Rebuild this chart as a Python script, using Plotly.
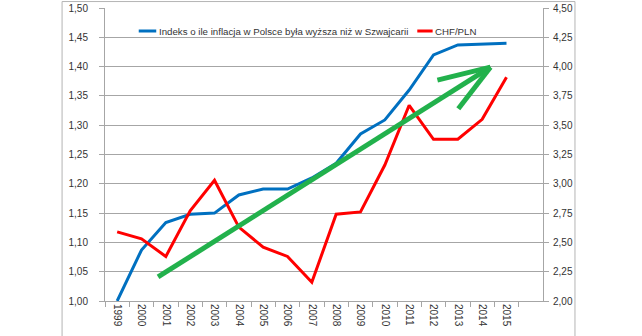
import plotly.graph_objects as go

# Years on the category axis
years = [str(y) for y in range(1999, 2016)]

# Index: how much higher cumulative inflation in Poland was than in Switzerland (left axis)
inflation_index = [1.000, 1.087, 1.134, 1.148, 1.150, 1.181, 1.191, 1.191, 1.210,
                   1.235, 1.285, 1.309, 1.360, 1.420, 1.437, 1.438, 1.440]

# CHF/PLN exchange rate (right axis)
chf_pln = [2.59, 2.53, 2.38, 2.77, 3.03, 2.63, 2.46, 2.38, 2.16,
           2.74, 2.76, 3.16, 3.67, 3.38, 3.38, 3.55, 3.91]

legend_labels = ["Indeks o ile inflacja w Polsce była wyższa niż w Szwajcarii", "CHF/PLN"]

BLUE = "#0070C0"
RED = "#FF0000"
GREEN = "#22B14C"
GRID = "#A6A6A6"
TEXT = "#333333"
FONT = "Liberation Sans, Arial, sans-serif"

fig = go.Figure()
fig.add_trace(go.Scatter(x=years, y=inflation_index, mode="lines", name=legend_labels[0],
                         line=dict(color=BLUE, width=3), yaxis="y"))
fig.add_trace(go.Scatter(x=years, y=chf_pln, mode="lines", name=legend_labels[1],
                         line=dict(color=RED, width=3), yaxis="y2"))

# Hand-drawn trend arrow, positions given as (category index, left-axis value)
arrow_start = (1.68, 1.041)
arrow_tip = (15.34, 1.399)
arrow_arms = [(13.16, 1.377), (14.02, 1.328)]

shapes = []
for (x0, y0) in [arrow_start] + arrow_arms:
    shapes.append(dict(type="line", xref="x", yref="y", x0=x0, y0=y0,
                       x1=arrow_tip[0], y1=arrow_tip[1],
                       line=dict(color=GREEN, width=5)))

# Outer chart frame
shapes.append(dict(type="rect", xref="paper", yref="paper", x0=-0.098, x1=1.073,
                   y0=-0.3, y1=1.022, line=dict(color="#B4B4B4", width=1), layer="below"))

# Legend drawn at the top of the plot area
legend_y = 0.9215
shapes.append(dict(type="line", xref="paper", yref="paper", x0=0.077, x1=0.117,
                   y0=legend_y, y1=legend_y, line=dict(color=BLUE, width=3)))
shapes.append(dict(type="line", xref="paper", yref="paper", x0=0.713, x1=0.748,
                   y0=legend_y, y1=legend_y, line=dict(color=RED, width=3)))
annotations = [
    dict(xref="paper", yref="paper", x=0.118, y=legend_y, text=legend_labels[0],
         showarrow=False, xanchor="left", yanchor="middle",
         font=dict(family=FONT, size=9.7, color=TEXT)),
    dict(xref="paper", yref="paper", x=0.749, y=legend_y, text=legend_labels[1],
         showarrow=False, xanchor="left", yanchor="middle",
         font=dict(family=FONT, size=9.7, color=TEXT)),
]

fig.update_layout(
    width=642, height=336,
    margin=dict(l=105, r=99, t=8, b=35, autoexpand=False),
    paper_bgcolor="white", plot_bgcolor="white",
    separators=", ",
    showlegend=False,
    font=dict(family=FONT, size=10, color=TEXT),
    shapes=shapes,
    annotations=annotations,
    xaxis=dict(
        type="category", range=[-0.5, 17.5], tickson="boundaries",
        ticks="outside", ticklen=5, tickcolor=GRID, tickangle=90,
        showline=True, linecolor=GRID, linewidth=1, showgrid=False,
        automargin=False,
        tickfont=dict(size=10, color=TEXT),
    ),
    yaxis=dict(
        range=[1.0, 1.5], dtick=0.05, tick0=1.0, tickformat=".2f",
        showgrid=True, gridcolor=GRID, gridwidth=1,
        ticks="outside", ticklen=5, tickcolor=GRID,
        showline=True, linecolor=GRID, linewidth=1,
        zeroline=False, ticklabelstandoff=9, automargin=False,
        tickfont=dict(size=10, color=TEXT),
    ),
    yaxis2=dict(
        range=[2.0, 4.5], dtick=0.25, tick0=2.0, tickformat=".2f",
        overlaying="y", side="right", showgrid=False,
        ticks="outside", ticklen=5, tickcolor=GRID,
        showline=True, linecolor=GRID, linewidth=1,
        zeroline=False, ticklabelstandoff=2, automargin=False,
        tickfont=dict(size=10, color=TEXT),
    ),
)

fig.write_html("out.html")
